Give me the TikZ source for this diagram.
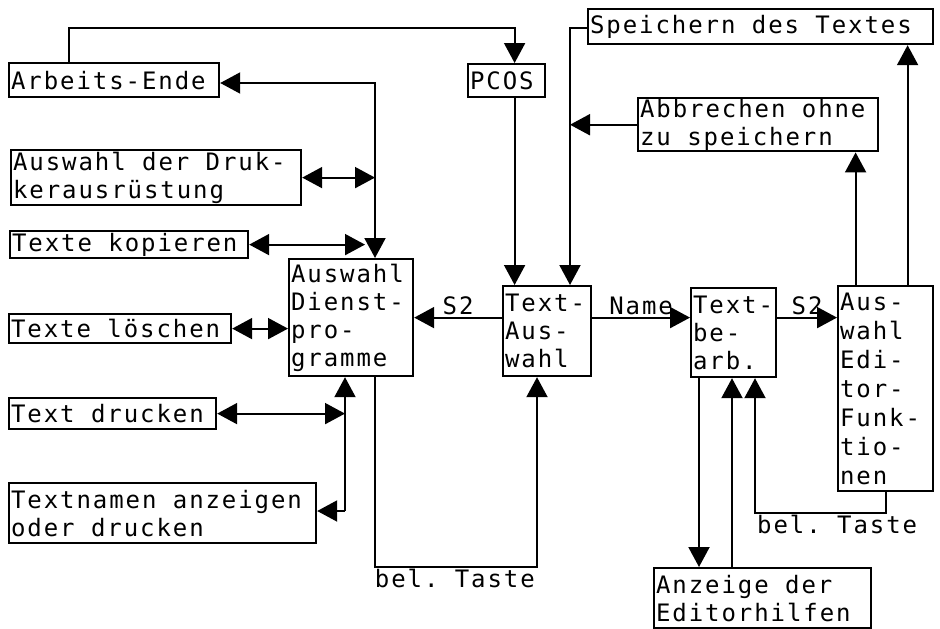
\documentclass[tikz,border=0pt]{standalone}
\usepackage{fontspec}
\usetikzlibrary{arrows.meta}
\newfontfamily\dotfont[LetterSpace=8]{DejaVu Sans Mono}
\newcommand\dotsize[1]{\dotfont\fontsize{24}{#1}\selectfont\fontdimen2\font=16.4pt\fontdimen3\font=0pt\fontdimen4\font=0pt\frenchspacing}
\tikzset{
  box/.style={draw, line width=2.2pt, anchor=north west, inner xsep=2pt, inner ysep=1pt, align=left, font=\dotsize{28}, execute at begin node={\spaceskip=16.4pt\xspaceskip=16.4pt\relax}},
  lbl/.style={inner sep=2pt, font=\dotsize{28}},
  arr/.style={line width=2pt, -{Triangle[length=20pt,width=21pt]}},
  darr/.style={line width=2pt, {Triangle[length=20pt,width=21pt]}-{Triangle[length=20pt,width=21pt]}}
}
\begin{document}
\begin{tikzpicture}[x=1pt,y=1pt]
\useasboundingbox (0,0) rectangle (940,-629);
\node[box, text width=206, minimum height=34] (ende) at (8,-62) {Arbeits-Ende};
\node[box, text width=286, minimum height=55] (druk) at (10,-149) {Auswahl der Druk-\\kerausrüstung};
\node[box, text width=234, minimum height=27] (kopie) at (9,-230) {Texte kopieren};
\node[box, text width=218, minimum height=29] (loesch) at (8,-313) {Texte löschen};
\node[box, text width=203, minimum height=31] (druck) at (8,-397) {Text drucken};
\node[box, text width=303, minimum height=60] (tnamen) at (8,-482) {Textnamen anzeigen\\oder drucken};
\node[box, text width=120, minimum height=117] (dienst) at (288,-258) {Auswahl\\Dienst-\\pro-\\gramme};
\node[box, text width=73, minimum height=33] (pcos) at (467,-63) {PCOS};
\node[box, text width=84, minimum height=90] (tausw) at (502,-285) {Text-\\Aus-\\wahl};
\node[box, text width=81, minimum height=89] (tbearb) at (690,-287) {Text-\\be-\\arb.};
\node[box, text width=91, minimum height=205, font=\dotsize{29}] (edit) at (837,-285) {Aus-\\wahl\\Edi-\\tor-\\Funk-\\tio-\\nen};
\node[box, text width=341, minimum height=35] (speich) at (587,-8) {Speichern des Textes};
\node[box, text width=236, minimum height=53] (abbr) at (637,-97) {Abbrechen ohne\\zu speichern};
\node[box, text width=213, minimum height=60] (anz) at (653,-567) {Anzeige der\\Editorhilfen};
\coordinate (jA) at (375,-83);
\coordinate (jB) at (345,-511);
\coordinate (jC) at (570,-28);
\coordinate (tL) at (537,-567);
\coordinate (tR) at (755,-513);
\coordinate (endeout) at ([xshift=61pt]ende.north west);
\coordinate (pcosin) at ([xshift=8pt]pcos.north);
\coordinate (pcosout) at ([xshift=8pt]pcos.south);
\coordinate (kopiein) at ([xshift=-10pt]jA |- kopie.east);
\coordinate (editL) at ([xshift=-30pt]edit.north);
\coordinate (editR) at ([xshift=22pt]edit.north);
\coordinate (bearbL) at ([xshift=9pt]tbearb.south west);
\coordinate (bearbR) at ([xshift=42pt]tbearb.south west);
\draw[arr] (endeout) -- ++(0,34) -| (pcosin);
\draw[darr] (ende.east |- jA) -| (jA |- dienst.north);
\draw[darr] (druk.east) -- (jA |- druk.east);
\draw[darr] (kopie.east) -- (kopiein);
\draw[darr] (loesch.east) -- (loesch.east -| dienst.west);
\draw[darr] (druck.east) -- (jB |- druck.east);
\draw[arr] (jB) -- (jB |- dienst.south);
\draw[arr] (jB) -- (jB -| tnamen.east);
\draw[arr] (jA |- dienst.south) |- (tL) -- (tL |- tausw.south);
\node[lbl, anchor=north east] (tasteL) at (tL) {bel. Taste};
\draw[arr] (tausw.west |- dienst.east) -- (dienst.east) node[lbl, midway, above] {S2};
\draw[arr] (tausw.east |- dienst.east) -- (tbearb.west |- dienst.east) node[lbl, midway, above] {Name};
\draw[arr] (tbearb.east |- dienst.east) -- (edit.west |- dienst.east) node[lbl, midway, above] {S2};
\draw[arr] (pcosout) -- (pcosout |- tausw.north);
\draw[arr] (speich.west |- jC) -| (jC |- tausw.north);
\draw[arr] (abbr.west) -- (jC |- abbr.west);
\draw[arr] (editL) -- (editL |- abbr.south);
\draw[arr] (editR) -- (editR |- speich.south);
\draw[arr] (edit.south) |- (tR) -- (tR |- tbearb.south);
\node[lbl, anchor=north west] (tasteR) at (tR) {bel. Taste};
\draw[arr] (bearbL) -- (bearbL |- anz.north);
\draw[arr] (bearbR |- anz.north) -- (bearbR);
\end{tikzpicture}
\end{document}
